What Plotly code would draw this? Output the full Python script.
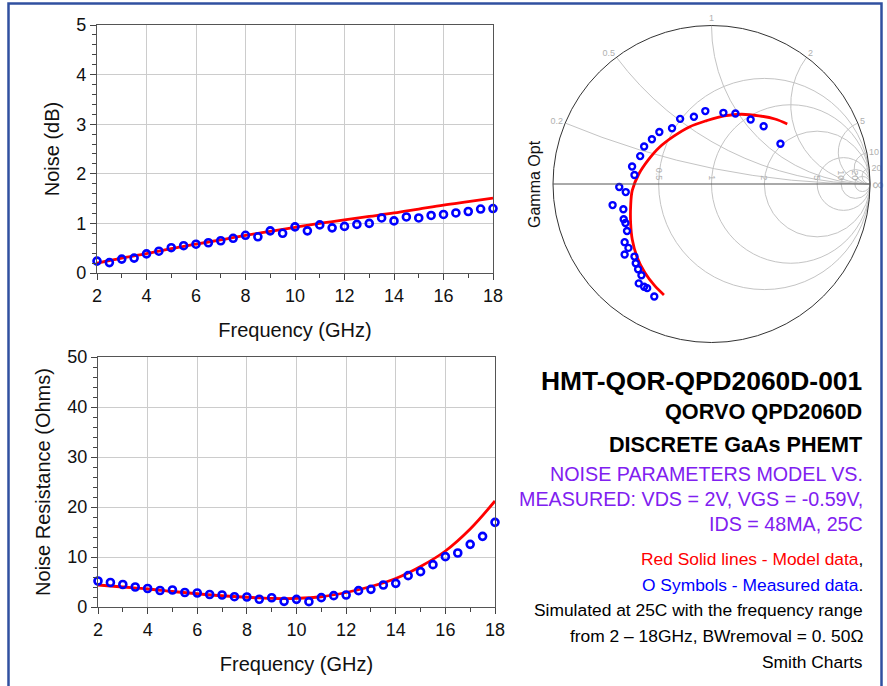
import numpy as np
import plotly.graph_objects as go

# ---------------- data ----------------
freq_meas = [2.0, 2.5, 3.0, 3.5, 4.0, 4.5, 5.0, 5.5, 6.0, 6.5, 7.0, 7.5, 8.0, 8.5, 9.0, 9.5,
             10.0, 10.5, 11.0, 11.5, 12.0, 12.5, 13.0, 13.5, 14.0, 14.5, 15.0, 15.5, 16.0,
             16.5, 17.0, 17.5, 18.0]
freq_model = [2, 3, 4, 5, 6, 7, 8, 9, 10, 11, 12, 13, 14, 15, 16, 17, 18]

noise_meas = [0.24, 0.21, 0.28, 0.30, 0.385, 0.44, 0.51, 0.55, 0.58, 0.61, 0.65, 0.70, 0.76,
              0.73, 0.85, 0.80, 0.93, 0.85, 0.97, 0.91, 0.94, 0.98, 1.00, 1.11, 1.05, 1.13,
              1.11, 1.16, 1.18, 1.21, 1.24, 1.29, 1.30]
noise_model = [0.20, 0.30, 0.39, 0.49, 0.58, 0.67, 0.76, 0.84, 0.92, 1.00, 1.07, 1.14, 1.21,
               1.29, 1.37, 1.44, 1.51]

rn_meas = [5.2, 4.9, 4.5, 4.0, 3.7, 3.3, 3.4, 2.9, 2.8, 2.5, 2.4, 2.06, 2.0, 1.55, 1.85, 1.13,
           1.53, 1.07, 1.87, 2.27, 2.4, 3.27, 3.53, 4.4, 4.73, 6.27, 7.07, 8.47, 10.07, 10.8,
           12.53, 14.13, 16.93]
rn_model = [4.4, 4.0, 3.6, 3.1, 2.65, 2.25, 1.95, 1.72, 1.72, 2.05, 2.9, 4.1, 5.7, 8.1, 11.2,
            15.6, 21.2]

# Gamma opt (reflection coefficient, real / imaginary parts)
gopt_meas_re = [0.435, 0.329, 0.247, 0.151, 0.075, -0.039, -0.111, -0.198, -0.249, -0.329,
                -0.376, -0.425, -0.450, -0.501, -0.486, -0.582, -0.541, -0.624, -0.556, -0.554,
                -0.543, -0.533, -0.548, -0.524, -0.548, -0.486, -0.478, -0.463, -0.442, -0.459,
                -0.425, -0.406, -0.361]
gopt_meas_im = [0.254, 0.364, 0.407, 0.445, 0.449, 0.460, 0.424, 0.411, 0.352, 0.328, 0.282,
                0.237, 0.176, 0.110, 0.057, -0.019, -0.051, -0.133, -0.159, -0.222, -0.246,
                -0.297, -0.367, -0.403, -0.445, -0.458, -0.500, -0.538, -0.576, -0.627, -0.648,
                -0.657, -0.710]
gopt_model_re = [0.478, 0.40, 0.30, 0.19, 0.08, -0.03, -0.14, -0.24, -0.33, -0.40, -0.46,
                 -0.50, -0.51, -0.51, -0.50, -0.47, -0.42, -0.36, -0.30]
gopt_model_im = [0.379, 0.41, 0.43, 0.44, 0.43, 0.40, 0.36, 0.30, 0.23, 0.15, 0.06, -0.04,
                 -0.14, -0.25, -0.35, -0.46, -0.56, -0.64, -0.70]


def gamma_to_z(re, im):
    g = np.array(re) + 1j * np.array(im)
    z = (1 + g) / (1 - g)
    return z.real, z.imag


zm_re, zm_im = gamma_to_z(gopt_meas_re, gopt_meas_im)
zmod_re, zmod_im = gamma_to_z(gopt_model_re, gopt_model_im)

W, H = 887, 686
FONT = "Arial, Liberation Sans, sans-serif"
RED = "#ff0000"
BLUE = "#0000ff"
PURPLE = "#8020f0"

marker = dict(symbol="circle-open", size=7, color=BLUE, line=dict(width=2.6, color=BLUE))
redline = dict(color=RED, width=2.8)

fig = go.Figure()
fig.add_trace(go.Scatter(x=freq_model, y=noise_model, mode="lines", line=dict(shape="spline", **redline),
                         xaxis="x", yaxis="y", showlegend=False, cliponaxis=False))
fig.add_trace(go.Scatter(x=freq_meas, y=noise_meas, mode="markers", marker=marker,
                         xaxis="x", yaxis="y", showlegend=False, cliponaxis=False))
fig.add_trace(go.Scatter(x=freq_model, y=rn_model, mode="lines", line=dict(shape="spline", **redline),
                         xaxis="x2", yaxis="y2", showlegend=False, cliponaxis=False))
fig.add_trace(go.Scatter(x=freq_meas, y=rn_meas, mode="markers", marker=marker,
                         xaxis="x2", yaxis="y2", showlegend=False, cliponaxis=False))
fig.add_trace(go.Scattersmith(real=zmod_re, imag=zmod_im, mode="lines",
                              line=dict(shape="spline", **redline), showlegend=False))
fig.add_trace(go.Scattersmith(real=zm_re, imag=zm_im, mode="markers",
                              marker=dict(symbol="circle-open", size=6, color=BLUE,
                                          line=dict(width=2.4, color=BLUE)),
                              showlegend=False))


def px_x(v):
    return v / W


def px_y(v):
    return 1 - v / H


axis_common = dict(
    automargin=False,
    showgrid=True, gridcolor="#cccccc", gridwidth=1,
    showline=True, linecolor="#555555", linewidth=1.2, mirror=True,
    ticks="outside", ticklen=6, tickcolor="#444444",
    tickfont=dict(family=FONT, size=18, color="#111111"),
    zeroline=False,
)
title_font = dict(family=FONT, size=20, color="#111111")

fig.update_layout(
    width=W, height=H,
    margin=dict(l=0, r=0, t=0, b=0, pad=0, autoexpand=False),
    paper_bgcolor="white", plot_bgcolor="white",
    font=dict(family=FONT),
    xaxis=dict(domain=[px_x(97), px_x(493)], range=[2, 18], dtick=2, anchor="y",
               title=dict(text="Frequency (GHz)", font=title_font, standoff=18),
               minor=dict(dtick=1, ticks="outside", ticklen=4, tickcolor="#444444", showgrid=False),
               **axis_common),
    yaxis=dict(domain=[px_y(273), px_y(25)], range=[0, 5], dtick=1, anchor="x",
               title=dict(text="Noise (dB)", font=title_font, standoff=11),
               minor=dict(dtick=0.2, ticks="outside", ticklen=4, tickcolor="#444444", showgrid=False),
               **axis_common),
    xaxis2=dict(domain=[px_x(98), px_x(495)], range=[2, 18], dtick=2, anchor="y2",
                title=dict(text="Frequency (GHz)", font=title_font, standoff=18),
                minor=dict(dtick=1, ticks="outside", ticklen=4, tickcolor="#444444", showgrid=False),
                **axis_common),
    yaxis2=dict(domain=[px_y(607), px_y(357)], range=[0, 50], dtick=10, anchor="x2",
                title=dict(text="Noise Resistance (Ohms)", font=title_font, standoff=11),
                minor=dict(dtick=2, ticks="outside", ticklen=4, tickcolor="#444444", showgrid=False),
                **axis_common),
    smith=dict(
        domain=dict(x=[px_x(553), px_x(870)], y=[px_y(342.5), px_y(25.5)]),
        bgcolor="white",
        realaxis=dict(tickvals=[0.5, 1, 2, 5, 10, 20], gridcolor="#c4c4c4", linecolor="#555555",
                      showline=True, ticks="", tickangle=90,
                      tickfont=dict(family=FONT, size=9, color="#b0b0b0")),
        imaginaryaxis=dict(tickvals=[0.2, 0.5, 1, 2, 5, 10, 20], gridcolor="#c4c4c4",
                           linecolor="#333333", showline=True, ticks="",
                           tickfont=dict(family=FONT, size=9, color="#b0b0b0")),
    ),
)

annotations = [
    dict(x=px_x(535), y=px_y(184), text="Gamma Opt", textangle=-90,
         font=dict(family=FONT, size=16, color="#111111")),
    dict(x=px_x(864), y=px_y(381), text="<b>HMT-QOR-QPD2060D-001</b>",
         font=dict(family=FONT, size=26.4, color="#000000")),
    dict(x=px_x(864), y=px_y(412), text="<b>QORVO QPD2060D</b>",
         font=dict(family=FONT, size=21.7, color="#000000")),
    dict(x=px_x(864), y=px_y(444), text="<b>DISCRETE GaAs PHEMT</b>",
         font=dict(family=FONT, size=21.6, color="#000000")),
    dict(x=px_x(865), y=px_y(474), text="NOISE PARAMETERS MODEL VS.",
         font=dict(family=FONT, size=19.7, color=PURPLE)),
    dict(x=px_x(865), y=px_y(499), text="MEASURED: VDS = 2V, VGS = -0.59V,",
         font=dict(family=FONT, size=19.7, color=PURPLE)),
    dict(x=px_x(865), y=px_y(524), text="IDS = 48MA, 25C",
         font=dict(family=FONT, size=19.7, color=PURPLE)),
    dict(x=px_x(865), y=px_y(559),
         text="<span style='color:#ff0000'>Red Solid lines - Model data</span>,",
         font=dict(family=FONT, size=17.4, color="#000000")),
    dict(x=px_x(865), y=px_y(585),
         text="<span style='color:#0000ff'>O Symbols - Measured data</span>.",
         font=dict(family=FONT, size=17.4, color="#000000")),
    dict(x=px_x(865), y=px_y(610), text="Simulated at 25C with the frequency range",
         font=dict(family=FONT, size=17.4, color="#000000")),
    dict(x=px_x(865), y=px_y(636), text="from 2 – 18GHz, BWremoval = 0. 50Ω",
         font=dict(family=FONT, size=17.4, color="#000000")),
    dict(x=px_x(865), y=px_y(662), text="Smith Charts",
         font=dict(family=FONT, size=17.4, color="#000000")),
]
for a in annotations:
    a.setdefault("xref", "paper")
    a.setdefault("yref", "paper")
    a.setdefault("showarrow", False)
    if a["text"] != "Gamma Opt":
        a.setdefault("xanchor", "right")
    a.setdefault("yanchor", "middle")
fig.update_layout(annotations=annotations)

# outer blue frame
fig.add_shape(type="rect", xref="paper", yref="paper",
              x0=px_x(8.5), x1=px_x(881.5), y0=-0.02, y1=px_y(3.5),
              line=dict(color="#3050a0", width=2.5), fillcolor="rgba(0,0,0,0)", layer="above")

fig.write_html("out.html")
